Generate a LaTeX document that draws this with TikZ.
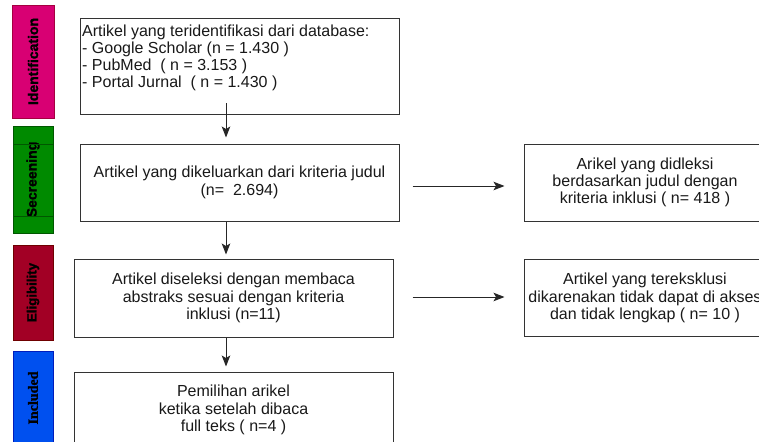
\documentclass[tikz,border=0pt]{standalone}
\usepackage{fontspec}
\setmainfont{Liberation Sans}
\newfontfamily\sidefont{Liberation Sans}[FakeBold=1.5]
\newfontfamily\serifbold{Liberation Serif}[FakeBold=1.5]
\usetikzlibrary{calc,arrows.meta}

\definecolor{identfill}{HTML}{D80073}
\definecolor{identline}{HTML}{A50040}
\definecolor{screenfill}{HTML}{008A00}
\definecolor{screenline}{HTML}{005700}
\definecolor{eligfill}{HTML}{A20025}
\definecolor{eligline}{HTML}{6F0000}
\definecolor{inclfill}{HTML}{0050EF}
\definecolor{inclline}{HTML}{001DBC}

\tikzset{
	box/.style={draw=black!80, line width=1pt, inner sep=0pt, align=center, text=black!90,
		font=\fontsize{16}{17.3}\selectfont},
	phase/.style={line width=0.8pt, rotate=90, inner sep=0pt, text=black,
		font=\sidefont\bfseries\fontsize{14}{16}\selectfont},
	flow/.style={-{Stealth[length=11pt,width=8.5pt,inset=2.5pt]}, line width=1pt, black!85},
}

\begin{document}
\begin{tikzpicture}[x=1pt,y=-1pt]
	\useasboundingbox[fill=white] (0,0) rectangle (759,441);
	
	% phase bars on the left
	\node[phase, fill=identfill, draw=identline, minimum width=113pt, minimum height=42pt] (identphase) at (33,61.5) {Identification};
	\node[phase, fill=screenfill, draw=screenline, minimum width=107pt, minimum height=40pt] (screenphase) at (33,179.5) {Secreening};
	\draw[screenline, line width=0.6pt] (13,144) -- (53,144);
	\draw[screenline, line width=0.6pt] (13,216) -- (53,216);
	\node[phase, fill=eligfill, draw=eligline, minimum width=95pt, minimum height=40pt, font=\sidefont\bfseries\fontsize{13.3}{15}\selectfont] (eligphase) at (33,292.5) {Eligibility};
	\node[phase, fill=inclfill, draw=inclline, minimum width=94pt, minimum height=40pt, font=\serifbold\bfseries\fontsize{14}{16}\selectfont] (inclphase) at (33,398) {Included};
	
	% main column
	\node[box, minimum width=319pt, minimum height=95pt] (ident) at (239.5,66.5) {};
	\node[anchor=north west, inner sep=0pt, align=left, text=black!90, font=\fontsize{16}{17.3}\selectfont] (identtext) at (82,24.3)
		{Artikel yang teridentifikasi dari database:\\- Google Scholar (n = 1.430 )\\- PubMed~ ( n = 3.153 )\\- Portal Jurnal~ ( n = 1.430 )};
	\node[box, minimum width=319pt, minimum height=77pt] (screen) at (239.5,182.5) {Artikel yang dikeluarkan dari kriteria judul\\(n=~ 2.694)};
	\node[box, minimum width=319pt, minimum height=78pt] (elig) at (233.5,298) {Artikel diseleksi dengan membaca\\abstraks sesuai dengan kriteria\\inklusi (n=11)};
	\node[box, minimum width=319pt, minimum height=76pt] (incl) at (233.5,410) {Pemilihan arikel\\ketika setelah dibaca\\full teks ( n=4 )};
	
	% excluded column
	\node[box, minimum width=242pt, minimum height=77pt] (excl1) at (645,182.5) {Arikel yang didleksi\\berdasarkan judul dengan\\kriteria inklusi ( n= 418 )};
	\node[box, minimum width=242pt, minimum height=77pt] (excl2) at (645,298) {Artikel yang tereksklusi\\dikarenakan tidak dapat di akses\\dan tidak lengkap ( n= 10 )};
	
	% arrows
	\coordinate (col) at (226,0);
	\draw[flow] ($(col |- ident.south)+(0,-11)$) -- ($(col |- screen.north)+(0,-6)$);
	\draw[flow] (col |- screen.south) -- ($(col |- elig.north)+(0,-4)$);
	\draw[flow] (col |- elig.south) -- ($(col |- incl.north)+(0,-5)$);
	\draw[flow] ($(screen.east)+(13,3.5)$) -- ($(excl1.west)+(-19,3.5)$);
	\draw[flow] ($(elig.east)+(19,-1)$) -- ($(excl2.west)+(-19,-1)$);
\end{tikzpicture}
\end{document}
